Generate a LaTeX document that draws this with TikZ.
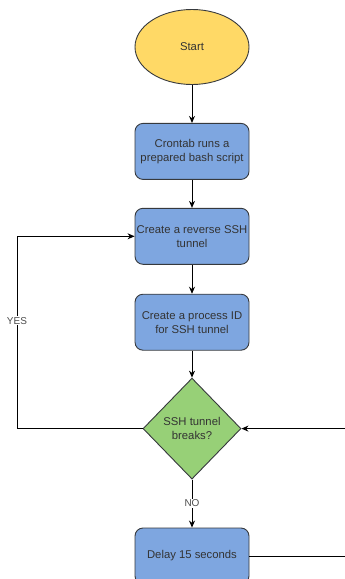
\documentclass[tikz,border=0pt]{standalone}
\usepackage{fontspec}
\setmainfont{Liberation Sans}
\usetikzlibrary{shapes.geometric, arrows.meta, positioning}
\definecolor{startyellow}{HTML}{FFD966}
\definecolor{stepblue}{HTML}{7EA6E0}
\definecolor{checkgreen}{HTML}{97D077}
\definecolor{edgegray}{HTML}{36393D}
\definecolor{labelgray}{HTML}{4D4D4D}

\begin{document}
\begin{tikzpicture}[x=1pt, y=1pt, >={Stealth[length=7pt,width=6pt]}, line width=0.9pt,
  terminal/.style={ellipse, draw=edgegray, fill=startyellow, minimum width=114pt, minimum height=75pt, inner sep=0pt, text=black!80, font=\fontsize{11.3}{14}\selectfont},
  process/.style={rectangle, rounded corners=8pt, draw=edgegray, fill=stepblue, minimum width=114pt, minimum height=56pt, inner sep=0pt, align=center, text=black!80, font=\fontsize{11.3}{14}\selectfont},
  decision/.style={diamond, draw=edgegray, fill=checkgreen, minimum width=98pt, minimum height=101pt, inner sep=0pt, align=center, text=black!80, font=\fontsize{11.3}{14}\selectfont},
  flowlabel/.style={fill=white, text=labelgray, inner sep=1pt, font=\fontsize{10}{12}\selectfont}]

  \clip (0,0) rectangle (345,-579);

  \node [terminal] (start) at (192,-47) {Start};
  \node [process, below=38pt of start] (cron) {Crontab runs a\\prepared bash script};
  \node [process, below=28pt of cron] (tunnel) {Create a reverse SSH\\tunnel};
  \node [process, below=29pt of tunnel] (pid) {Create a process ID\\for SSH tunnel};
  \node [decision, below=27pt of pid] (breaks) {SSH tunnel\\breaks?};
  \node [process, below=48pt of breaks] (delay) {Delay 15 seconds};

  \coordinate (yesbend) at (17,0);
  \coordinate (waitbend) at (350,0);

  \draw[->, black] (start) -- (cron);
  \draw[->, black] (cron) -- (tunnel);
  \draw[->, black] (tunnel) -- (pid);
  \draw[->, black] (pid) -- (breaks);
  \draw[->, black] (breaks) -- (delay) node[flowlabel, midway] {NO};
  \draw[->, black] (breaks.west) -- (breaks.west -| yesbend) |- (tunnel.west) node[flowlabel, pos=0.28] {YES};
  \draw[->, black] (delay.east) -- (delay.east -| waitbend) |- (breaks.east);
\end{tikzpicture}
\end{document}
